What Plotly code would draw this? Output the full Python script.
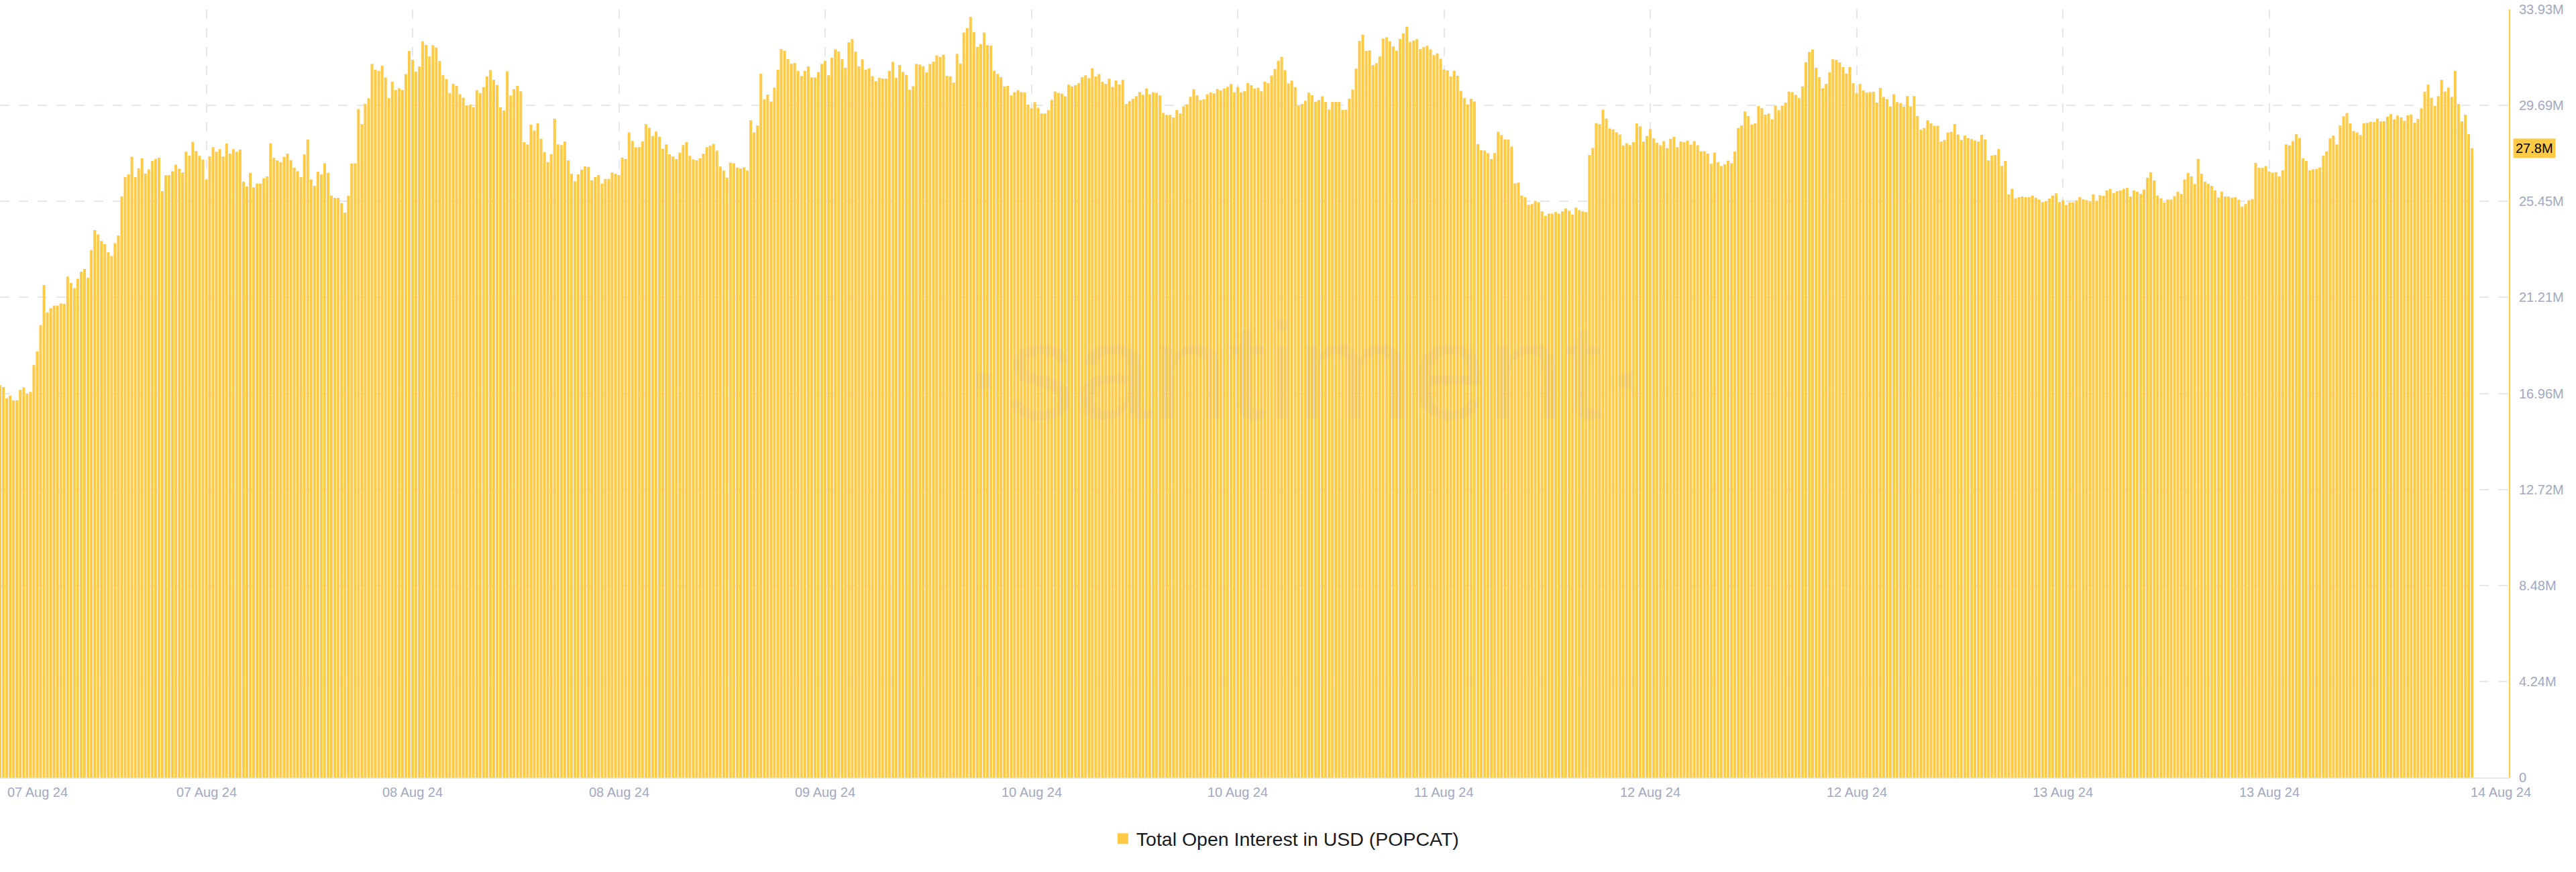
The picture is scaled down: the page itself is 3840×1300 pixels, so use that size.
import plotly.graph_objects as go
import pandas as pd

SERIES_NAME = "Total Open Interest in USD (POPCAT)"
START = "2024-08-07 00:00"
INTERVAL = "15min"

# Total open interest, millions of USD, one bar per 15 minutes
OI_MUSD = [
    17.33, 17.25, 16.75, 16.87, 16.66, 16.66, 17.12, 17.23, 16.95, 17.03,
    18.22, 18.82, 19.98, 21.75, 20.54, 20.73, 20.85, 20.85, 20.94, 20.92,
    22.13, 21.85, 21.62, 22.03, 22.34, 22.46, 22.07, 23.30, 24.18, 23.99,
    23.70, 23.56, 23.20, 23.04, 23.60, 23.94, 25.67, 26.52, 26.65, 27.42,
    26.52, 26.91, 27.35, 26.68, 26.86, 27.23, 27.33, 27.38, 25.90, 26.60,
    26.61, 26.78, 27.07, 26.89, 26.73, 27.64, 27.47, 28.08, 27.67, 27.46,
    27.29, 26.41,
    27.44, 27.85, 27.64, 27.76, 27.43, 28.00, 27.56, 27.76, 27.64, 27.74,
    26.32, 26.11, 26.71, 26.07, 26.23, 26.23, 26.47, 26.55, 28.02, 27.37,
    27.26, 27.17, 27.41, 27.56, 27.27, 26.94, 26.78, 26.52, 27.52, 28.18,
    26.42, 26.14, 26.76, 26.63, 27.14, 26.71, 25.71, 25.60, 25.60, 25.37,
    24.95, 25.70, 27.12, 27.13, 29.53, 28.86, 29.76, 30.00, 31.52, 31.26,
    31.21, 31.45, 30.92, 30.01, 30.74, 30.37, 30.45, 30.37, 31.07, 32.09,
    31.71,
    31.18, 31.41, 32.52, 32.36, 31.85, 32.35, 32.25, 31.65, 31.03, 30.85,
    30.24, 30.64, 30.55, 30.18, 30.03, 29.69, 29.72, 29.61, 30.36, 30.23,
    30.49, 30.97, 31.25, 30.82, 30.59, 29.60, 29.46, 31.20, 30.12, 30.40,
    30.55, 30.31, 28.06, 27.97, 28.83, 28.58, 28.90, 28.22, 27.63, 27.19,
    27.53, 29.10, 27.97, 27.94, 28.09, 27.26, 26.67, 26.34, 26.64, 26.85,
    27.00, 26.97, 26.38, 26.52, 26.61, 26.23, 26.44, 26.44, 26.73, 26.67, 26.61,
    27.38, 27.32, 28.49, 28.12, 27.84, 27.85, 28.10, 28.86, 28.70, 28.34,
    28.53, 28.31, 27.77, 27.97, 27.53, 27.43, 27.32, 27.60, 27.94, 28.06,
    27.46, 27.31, 27.26, 27.35, 27.56, 27.85, 27.91, 27.99, 27.69, 26.99,
    26.81, 26.50, 27.16, 27.13, 26.94, 26.90, 26.95, 26.81, 29.03, 28.50,
    28.80, 31.09, 29.95, 30.17, 29.86, 30.48, 31.26, 32.18, 32.11, 31.74,
    31.53, 31.56, 31.21, 30.99, 31.22, 31.41, 30.92, 30.92, 31.17, 31.52, 31.66,
    31.02, 31.80, 32.17, 32.07, 31.73, 31.35, 32.48, 32.62, 32.06, 31.41,
    31.73, 31.26, 31.32, 30.98, 30.76, 30.91, 30.88, 30.87, 31.22, 31.61,
    30.91, 31.47, 31.17, 31.04, 30.38, 30.54, 31.52, 31.49, 31.42, 31.15,
    31.52, 31.62, 31.90, 31.83, 31.93, 31.00, 30.97, 30.70, 31.97, 31.54,
    32.91, 33.10, 33.60, 32.93, 32.27, 32.40, 32.91, 32.35, 32.33, 31.22,
    31.08, 30.94, 30.53, 30.55, 30.13, 30.28, 30.36, 30.28, 30.26, 29.72, 29.57,
    29.83, 29.59, 29.33, 29.33, 29.48, 29.94, 30.30, 30.24, 30.21, 30.09,
    30.60, 30.53, 30.58, 30.66, 30.94, 31.02, 30.89, 31.33, 30.97, 31.07,
    30.72, 30.64, 30.87, 30.51, 30.79, 30.61, 30.82, 29.75, 29.88, 29.98,
    30.10, 30.28, 30.16, 30.44, 30.18, 30.27, 30.24, 30.13, 29.36, 29.27,
    29.27, 29.16, 29.49, 29.34, 29.65, 29.74, 30.07, 30.40, 30.13, 29.92,
    29.96, 30.18, 30.26, 30.22, 30.41, 30.35, 30.43, 30.51, 30.63, 30.27,
    30.49,
    30.27, 30.32, 30.68, 30.58, 30.43, 30.47, 30.31, 30.74, 30.68, 31.01,
    31.30, 31.66, 31.83, 31.25, 30.66, 30.78, 30.49, 29.68, 29.75, 29.89,
    30.25, 30.14, 29.85, 29.93, 30.09, 29.84, 29.51, 29.84, 29.84, 29.84,
    29.49, 29.50, 29.99, 30.39, 31.31, 32.54, 32.82, 32.09, 32.12, 31.47,
    31.55, 31.85, 32.64, 32.70, 32.52, 32.29, 32.11, 32.62, 32.86, 33.17,
    32.49, 32.55, 32.62, 32.18, 32.26, 32.32, 32.17, 31.91, 31.99, 31.75, 31.28,
    31.23, 30.97, 31.22, 31.00, 30.33, 30.01, 29.74, 29.98, 29.86, 27.98,
    27.71, 27.69, 27.57, 27.32, 27.58, 28.52, 28.38, 28.19, 28.18, 27.87,
    26.25, 26.28, 25.71, 25.63, 25.30, 25.33, 25.47, 25.41, 25.01, 24.80,
    24.91, 24.91, 24.98, 24.91, 25.01, 25.14, 25.03, 24.87, 25.17, 25.06,
    25.01, 24.97, 27.50, 27.81, 28.91, 28.86, 29.50, 29.11, 28.67, 28.63,
    28.50, 28.40, 27.92, 28.02, 27.94, 28.07, 28.89, 28.76, 28.09, 28.34,
    28.64,
    28.23, 28.04, 27.93, 28.11, 27.80, 28.21, 28.30, 27.85, 28.09, 28.06,
    28.13, 27.96, 28.11, 27.93, 27.66, 27.66, 27.56, 27.11, 27.61, 27.17,
    27.01, 27.09, 27.25, 27.14, 27.65, 28.69, 28.80, 29.42, 29.22, 28.85,
    28.89, 29.66, 29.57, 29.28, 29.33, 29.07, 29.68, 29.48, 29.68, 29.81,
    30.30, 30.28, 30.16, 30.01, 30.53, 31.60, 32.05, 32.16, 31.35, 30.94,
    30.45, 30.64, 31.15, 31.73, 31.70, 31.59, 31.38, 31.10, 31.39, 30.67, 30.23,
    30.63, 30.35, 30.25, 30.28, 30.29, 29.81, 30.46, 30.06, 29.96, 29.64,
    30.18, 29.83, 29.79, 29.63, 30.10, 29.65, 30.10, 29.22, 28.62, 28.69,
    29.03, 28.89, 28.79, 28.79, 28.09, 28.16, 28.49, 28.52, 28.86, 28.40,
    28.16, 28.36, 28.24, 28.20, 28.14, 28.09, 28.39, 28.18, 27.26, 27.48,
    27.50, 27.76, 27.02, 27.23, 25.75, 26.00, 25.59, 25.63, 25.66, 25.63,
    25.63, 25.71, 25.61, 25.53, 25.42, 25.46, 25.57, 25.71, 25.80, 25.42,
    25.50,
    25.29, 25.40, 25.40, 25.49, 25.64, 25.54, 25.51, 25.44, 25.76, 25.48,
    25.72, 25.69, 25.93, 26.00, 25.82, 25.90, 25.93, 26.00, 26.05, 25.66,
    25.93, 25.87, 25.78, 25.97, 26.49, 26.74, 26.37, 25.71, 25.59, 25.40,
    25.53, 25.54, 25.68, 25.88, 25.78, 26.42, 26.71, 26.55, 26.22, 27.33,
    26.67, 26.32, 26.22, 26.14, 25.94, 25.62, 25.88, 25.66, 25.66, 25.61,
    25.63, 25.52, 25.21, 25.33, 25.50, 25.55, 27.15, 26.93, 26.93, 27.01, 26.77,
    26.72, 26.74, 26.56, 26.82, 27.97, 27.92, 28.11, 28.41, 28.25, 27.35,
    27.23, 26.82, 26.86, 26.88, 26.95, 27.46, 27.66, 28.23, 28.35, 27.97,
    28.80, 29.21, 29.35, 28.89, 28.56, 28.49, 28.38, 28.90, 28.92, 28.97,
    28.95, 29.11, 28.98, 28.99, 29.19, 29.30, 29.07, 29.24, 29.16, 29.00,
    29.25, 29.29, 28.92, 29.09, 29.56, 30.29, 30.60, 30.02, 29.66, 30.10,
    30.82, 30.30, 30.48, 30.06, 31.22, 29.75, 28.98, 29.28, 28.42, 27.80,
]

X_TICK_LABELS = ["07 Aug 24", "07 Aug 24", "08 Aug 24", "08 Aug 24", "09 Aug 24",
                 "10 Aug 24", "10 Aug 24", "11 Aug 24", "12 Aug 24", "12 Aug 24",
                 "13 Aug 24", "13 Aug 24", "14 Aug 24"]
BARS_PER_X_TICK = 61

Y_TICK_VALUES = [0, 4.24, 8.48, 12.72, 16.96, 21.21, 25.45, 29.69, 33.93]
Y_TICK_LABELS = ["0", "4.24M", "8.48M", "12.72M", "16.96M", "21.21M", "25.45M", "29.69M", "33.93M"]

YELLOW = "#FFCB47"
GRID = "#e4e7f0"
AXIS_TEXT = "#a0a9c2"
FONT = "Liberation Sans, Arial, sans-serif"

dates = pd.date_range(START, periods=len(OI_MUSD), freq=INTERVAL)
step = pd.Timedelta(INTERVAL)

fig = go.Figure()
fig.add_trace(go.Bar(
    x=dates, y=OI_MUSD,
    marker=dict(color=YELLOW, line=dict(width=0)),
    showlegend=False, hoverinfo="skip",
))
# legend entry (square swatch)
fig.add_trace(go.Scatter(
    x=[None], y=[None], mode="markers", name=SERIES_NAME,
    marker=dict(symbol="square", size=18, color=YELLOW),
))

grid_dates = list(dates[::BARS_PER_X_TICK][:len(X_TICK_LABELS) - 1])

annotations = []
for i, (d, lab) in enumerate(zip(grid_dates, X_TICK_LABELS[:-1])):
    annotations.append(dict(
        x=d, xref="x", y=0, yref="paper", yanchor="top", yshift=-9,
        xanchor="left" if i == 0 else "center", xshift=9 if i == 0 else 0,
        text=lab, showarrow=False, font=dict(size=20, color=AXIS_TEXT, family=FONT),
    ))
annotations.append(dict(
    x=1, xref="paper", y=0, yref="paper", yanchor="top", yshift=-9,
    xanchor="right", xshift=35, text=X_TICK_LABELS[-1], showarrow=False,
    font=dict(size=20, color=AXIS_TEXT, family=FONT),
))
# last value badge on the right axis
last = OI_MUSD[-1]
annotations.append(dict(
    x=1, xref="paper", y=last, yref="y", xanchor="left", yanchor="middle", xshift=6,
    text=f"{last:.1f}M", showarrow=False, bgcolor=YELLOW, borderpad=3,
    font=dict(size=20, color="#000000", family=FONT),
))
# watermark
annotations.append(dict(
    x=0.52, xref="paper", y=0.53, yref="paper", xanchor="center", yanchor="middle",
    text="·santiment·", showarrow=False,
    font=dict(size=205, color="rgba(140,140,160,0.08)", family=FONT),
))

fig.update_layout(
    width=3840, height=1300,
    margin=dict(l=0, r=100, t=14, b=141),
    paper_bgcolor="white", plot_bgcolor="white",
    bargap=0.2,
    showlegend=True,
    legend=dict(orientation="h", x=0.4422, xanchor="left", y=-0.08, yanchor="middle",
                font=dict(size=28.5, color="#181a21", family=FONT),
                bgcolor="rgba(0,0,0,0)"),
    annotations=annotations,
    hovermode=False,
)
fig.update_xaxes(
    type="date",
    range=[dates[0], dates[0] + step * 741.9],
    tickvals=grid_dates, showticklabels=False, ticks="",
    showgrid=True, gridcolor=GRID, gridwidth=2, griddash="14px,14px",
    showline=True, linecolor=GRID, linewidth=2, zeroline=False,
)
fig.update_yaxes(
    side="right", range=[0, 33.93],
    tickvals=Y_TICK_VALUES, ticktext=Y_TICK_LABELS,
    tickfont=dict(size=20, color=AXIS_TEXT, family=FONT),
    ticks="outside", ticklen=9, tickcolor="rgba(0,0,0,0)",
    showgrid=True, gridcolor=GRID, gridwidth=2, griddash="14px,14px",
    showline=True, linecolor=YELLOW, linewidth=2, zeroline=False,
)

fig.write_html("out.html", config={"displayModeBar": False},
               post_script="document.body.style.margin='0';document.body.style.overflow='hidden';")
